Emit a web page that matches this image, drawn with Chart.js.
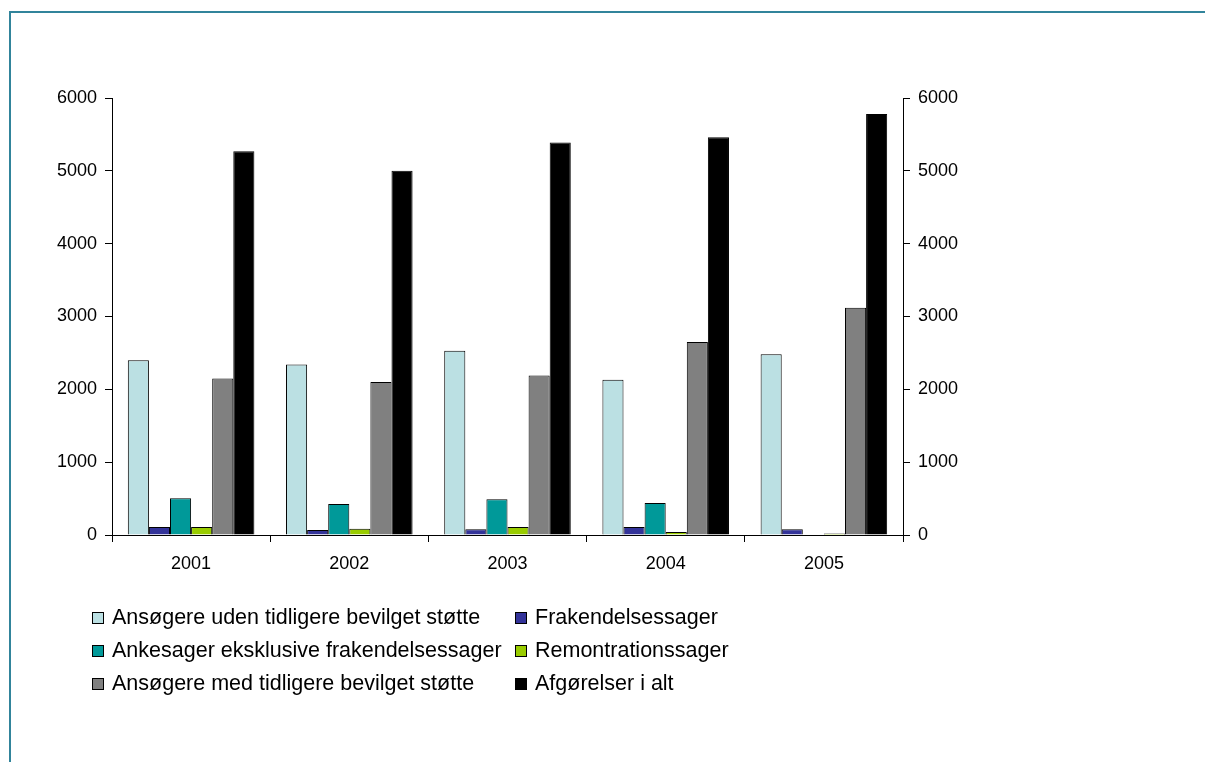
<!DOCTYPE html>
<html>
<head>
<meta charset="utf-8">
<script src="https://cdn.jsdelivr.net/npm/chart.js@4"></script>
<style>
  html, body { margin: 0; padding: 0; background: #fff; }
  #wrap { position: relative; width: 1205px; height: 762px; overflow: hidden; }
  #frame { position: absolute; left: 9px; top: 11px; width: 1300px; height: 800px;
           border-top: 2px solid #31849b; border-left: 2px solid #31849b; }
  #c { position: absolute; left: 0; top: 0; }
  #legend { position: absolute; left: 92px; top: 606px;
            display: grid; grid-template-columns: 423px 260px; row-gap: 10px;
            font-family: "Liberation Sans", Arial, sans-serif; font-size: 21.5px; color: #000; }
  #legend div { display: flex; align-items: center; height: 23px; white-space: nowrap; }
  #legend span.box { width: 10px; height: 10px; border: 1px solid #000; margin-right: 8px; flex: none; }
</style>
</head>
<body>
<div id="wrap">
  <div id="frame"></div>
  <canvas id="c" width="1205" height="762"></canvas>
  <div id="legend"></div>
</div>
<script>
// Afgørelser per år
var years = ['2001', '2002', '2003', '2004', '2005'];
var uden = [2400, 2340, 2530, 2130, 2480];
var frakendelse = [110, 70, 80, 110, 80];
var ankesager = [505, 425, 490, 440, 0];
var remontration = [110, 85, 110, 40, 20];
var med = [2150, 2100, 2190, 2650, 3120];
var ialt = [5270, 5000, 5390, 5460, 5780];

var seriesNames = [
    'Ansøgere uden tidligere bevilget støtte',
    'Frakendelsessager',
    'Ankesager eksklusive frakendelsessager',
    'Remontrationssager',
    'Ansøgere med tidligere bevilget støtte',
    'Afgørelser i alt'
];
var seriesData = [uden, frakendelse, ankesager, remontration, med, ialt];
var seriesColors = ['#bbe0e3', '#333399', '#009999', '#99cc00', '#808080', '#000000'];

var font = { family: '"Liberation Sans", Arial, sans-serif', size: 18 };

var datasets = seriesNames.map(function (name, i) {
    return {
        label: name,
        data: seriesData[i],
        backgroundColor: seriesColors[i],
        borderColor: '#000',
        borderWidth: 1,
        borderSkipped: 'bottom',
        categoryPercentage: 0.8,
        barPercentage: 1.0
    };
});

var yAxis = function (pos) {
    return {
        position: pos,
        min: 0, max: 6000,
        ticks: { stepSize: 1000, color: '#000', font: font, padding: 8,
                 callback: function (v) { return String(v); } },
        grid: { drawOnChartArea: false, tickLength: 7, color: '#000' },
        border: { display: true, color: '#000', width: 1 },
        afterFit: function (s) { s.width = 60; }
    };
};

var chart = new Chart(document.getElementById('c').getContext('2d'), {
    type: 'bar',
    data: { labels: years, datasets: datasets },
    options: {
        responsive: false,
        animation: false,
        layout: { padding: { left: 52, right: 242, top: 98, bottom: 182 } },
        plugins: { legend: { display: false }, tooltip: { enabled: false } },
        scales: {
            x: {
                offset: true,
                ticks: { color: '#000', font: font, padding: 11 },
                grid: { offset: true, drawOnChartArea: false, tickLength: 7, color: '#000' },
                border: { display: true, color: '#000', width: 1 },
                afterFit: function (s) { s.height = 45; }
            },
            y: yAxis('left'),
            y2: yAxis('right')
        }
    }
});

// legend in two columns
var legendEl = document.getElementById('legend');
seriesNames.forEach(function (name, i) {
    var item = document.createElement('div');
    var box = document.createElement('span');
    box.className = 'box';
    box.style.background = seriesColors[i];
    item.appendChild(box);
    item.appendChild(document.createTextNode(name));
    legendEl.appendChild(item);
});
</script>
</body>
</html>
